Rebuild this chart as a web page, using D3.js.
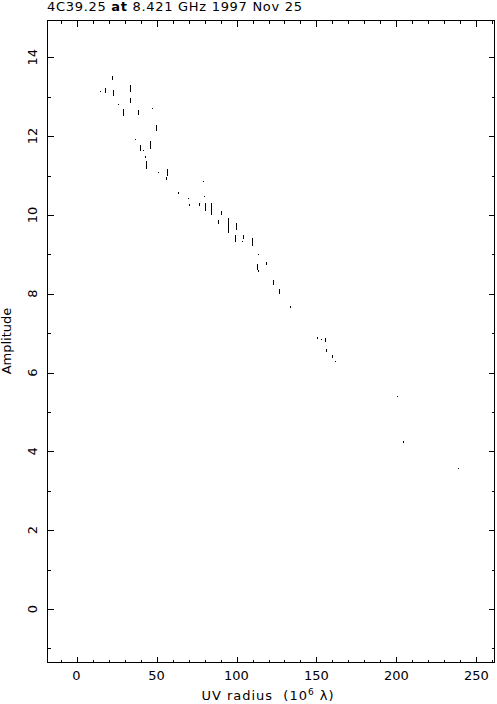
<!DOCTYPE html>
<html>

<head>
    <title>4C39.25 amplitude vs UV radius</title>
    <script src="https://d3js.org/d3.v7.min.js"></script>
    <style>
        body { margin: 0; background: #fff; }
        text { font-family: "DejaVu Sans", "Liberation Sans", sans-serif; font-size: 13px; fill: #000; white-space: pre; }
    </style>
</head>

<body>
    <script type="text/javascript">

        // UV radius (10^6 lambda), amplitude and half-height of the error bar
        var uvRadius = [14.7, 17.5, 22.2, 22.8, 26.0, 29.0, 33.4, 33.4, 36.6, 38.4,
            39.7, 41.6, 42.8, 43.7, 46.2, 47.2, 49.7, 51.0, 56.6, 56.0,
            63.4, 69.7, 70.6, 76.5, 79.0, 79.7, 80.3, 84.0, 90.3, 88.4,
            94.4, 99.7, 99.0, 104.0, 103.4, 109.7, 113.4, 112.8, 118.4, 113.4,
            122.8, 126.6, 133.4, 150.3, 152.8, 155.3, 155.9, 160.0, 161.6, 200.3,
            204.0, 238.4];
        var amplitude = [13.15, 13.15, 13.48, 13.10, 12.82, 12.60, 13.20, 12.90, 11.93, 12.60,
            11.70, 11.65, 11.47, 11.27, 11.78, 12.72, 12.20, 11.09, 11.08, 10.93,
            10.56, 10.43, 10.25, 10.27, 10.86, 10.48, 10.20, 10.15, 10.05, 9.82,
            9.73, 9.70, 9.40, 9.44, 9.34, 9.31, 9.01, 8.68, 8.77, 8.58,
            8.28, 8.06, 7.66, 6.87, 6.85, 6.82, 6.56, 6.40, 6.29, 5.41,
            4.23, 3.58];
        var ampError = [0, 0.06, 0.05, 0.08, 0, 0.08, 0.09, 0.06, 0, 0.06,
            0.08, 0, 0.03, 0.10, 0.10, 0, 0.08, 0, 0.09, 0.04,
            0.03, 0, 0.03, 0.04, 0, 0, 0.10, 0.15, 0.05, 0.05,
            0.19, 0.09, 0.09, 0.05, 0, 0.10, 0, 0.08, 0.04, 0.03,
            0.07, 0.06, 0.03, 0.03, 0, 0.05, 0.04, 0.04, 0, 0,
            0.03, 0];

        // tick values
        var xMajorTicks = [0, 50, 100, 150, 200, 250];
        var xMinorTicks = d3.range(-10, 261, 10);
        var yMajorTicks = [0, 2, 4, 6, 8, 10, 12, 14];
        var yMinorTicks = d3.range(-1, 15, 1);

        var data = uvRadius.map(function (u, i) {
            return { u: u, amp: amplitude[i], err: ampError[i] };
        });

        var W = 497, H = 704;
        // frame edges (don't call these "top" - clashes with window.top)
        var fLeft = 47, fRight = 494, fTop = 20, fBottom = 662;

        // scales, the frame is a bit wider than the data
        var xScale = d3.scaleLinear()
            .domain([-18.44, 260.94])
            .range([fLeft, fRight]);

        var yScale = d3.scaleLinear()
            .domain([-1.345, 14.946])
            .range([fBottom, fTop]);

        var svg = d3.select("body")
            .append("svg")
            .attr("width", W)
            .attr("height", H);

        // box
        svg.append("rect")
            .attr("x", fLeft + 0.5)
            .attr("y", fTop + 0.5)
            .attr("width", fRight - fLeft)
            .attr("height", fBottom - fTop)
            .attr("fill", "none")
            .attr("stroke", "black")
            .attr("stroke-width", 1);

        // ticks point inward on all four sides
        function xTicks(y, dir) {
            var axis = dir < 0 ? d3.axisTop(xScale) : d3.axisBottom(xScale);
            axis.tickFormat("").tickSizeOuter(0);
            svg.append("g")
                .attr("transform", "translate(0," + (y + 0.5) + ")")
                .call(axis.tickValues(xMinorTicks).tickSizeInner(3))
                .call(function (g) { g.select(".domain").remove(); });
            svg.append("g")
                .attr("transform", "translate(0," + (y + 0.5) + ")")
                .call(axis.tickValues(xMajorTicks).tickSizeInner(6))
                .call(function (g) { g.select(".domain").remove(); });
        }
        function yTicks(x, dir) {
            var axis = dir < 0 ? d3.axisLeft(yScale) : d3.axisRight(yScale);
            axis.tickFormat("").tickSizeOuter(0);
            svg.append("g")
                .attr("transform", "translate(" + (x + 0.5) + ",0)")
                .call(axis.tickValues(yMinorTicks).tickSizeInner(3))
                .call(function (g) { g.select(".domain").remove(); });
            svg.append("g")
                .attr("transform", "translate(" + (x + 0.5) + ",0)")
                .call(axis.tickValues(yMajorTicks).tickSizeInner(6))
                .call(function (g) { g.select(".domain").remove(); });
        }
        xTicks(fBottom, -1);
        xTicks(fTop, 1);
        yTicks(fLeft, 1);
        yTicks(fRight, -1);
        svg.selectAll(".tick line").attr("stroke", "black").attr("shape-rendering", "crispEdges");

        // tick labels
        svg.selectAll(".xlab")
            .data(xMajorTicks)
            .enter().append("text")
            .attr("x", function (d) { return xScale(d); })
            .attr("y", 680)
            .attr("text-anchor", "middle")
            .text(function (d) { return d; });

        svg.selectAll(".ylab")
            .data(yMajorTicks)
            .enter().append("text")
            .attr("transform", function (d) { return "translate(37," + yScale(d) + ") rotate(-90)"; })
            .attr("text-anchor", "middle")
            .text(function (d) { return d; });

        // axis titles
        var xl = svg.append("text")
            .attr("x", 268)
            .attr("y", 700)
            .attr("text-anchor", "middle")
            .style("letter-spacing", "1px");
        xl.append("tspan").text("UV radius  (10");
        xl.append("tspan").attr("dy", -5).style("font-size", "9px").text("6");
        xl.append("tspan").attr("dy", 5).text(" \u03bb)");

        svg.append("text")
            .attr("transform", "translate(11," + (fTop + fBottom) / 2 + ") rotate(-90)")
            .attr("text-anchor", "middle")
            .text("Amplitude");

        // title
        var t = svg.append("text")
            .attr("x", fLeft)
            .attr("y", 11)
            .style("letter-spacing", "0.7px");
        t.append("tspan").text("4C39.25 ");
        t.append("tspan").style("font-weight", "bold").text("at");
        t.append("tspan").text(" 8.421 GHz 1997 Nov 25");

        // error bars
        svg.selectAll(".err")
            .data(data)
            .enter().append("rect")
            .attr("x", function (d) { return Math.round(xScale(d.u)); })
            .attr("y", function (d) { return yScale(d.amp + d.err); })
            .attr("width", 1)
            .attr("height", function (d) { return Math.max(1, yScale(d.amp - d.err) - yScale(d.amp + d.err)); })
            .attr("fill", "black")
            .attr("shape-rendering", "crispEdges");

        // points
        svg.selectAll(".pt")
            .data(data)
            .enter().append("rect")
            .attr("x", function (d) { return Math.round(xScale(d.u)); })
            .attr("y", function (d) { return Math.round(yScale(d.amp)); })
            .attr("width", 1)
            .attr("height", 1)
            .attr("fill", "black")
            .attr("shape-rendering", "crispEdges");

    </script>
</body>

</html>
